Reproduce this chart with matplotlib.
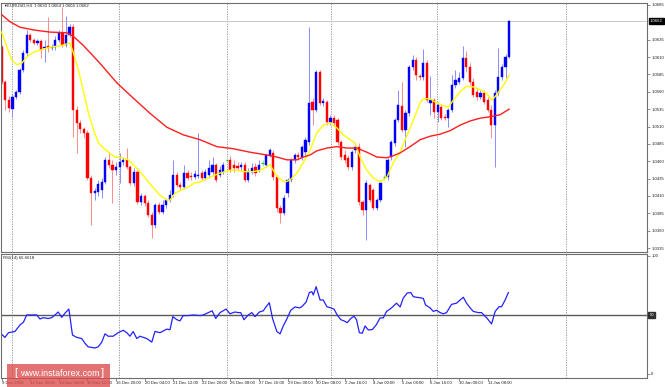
import matplotlib.pyplot as plt
from matplotlib.patches import Rectangle
from matplotlib.transforms import blended_transform_factory
import numpy as np

plt.rcParams['font.family'] = ['Liberation Sans', 'DejaVu Sans']

# EURUSD H4 - bougies (9 déc. 2016 -> 12 janv. 2017)
opens = [1.0625, 1.0574, 1.0548, 1.0535, 1.0553, 1.0560, 1.0591, 1.0616, 1.0642, 1.0635,
         1.0630, 1.0633, 1.0623, 1.0626, 1.0623, 1.0625, 1.0635, 1.0645, 1.0627, 1.0642,
         1.0653, 1.0534, 1.0515, 1.0506, 1.0501, 1.0436, 1.0414, 1.0416, 1.0419, 1.0430,
         1.0462, 1.0455, 1.0447, 1.0452, 1.0459, 1.0462, 1.0452, 1.0429, 1.0445, 1.0401,
         1.0410, 1.0400, 1.0383, 1.0368, 1.0397, 1.0387, 1.0397, 1.0404, 1.0411, 1.0440,
         1.0426, 1.0423, 1.0443, 1.0439, 1.0437, 1.0439, 1.0443, 1.0436, 1.0440, 1.0445,
         1.0455, 1.0440, 1.0445, 1.0462, 1.0462, 1.0455, 1.0453, 1.0452, 1.0455, 1.0433,
         1.0445, 1.0452, 1.0447, 1.0458, 1.0455, 1.0469, 1.0472, 1.0437, 1.0393, 1.0386,
         1.0414, 1.0433, 1.0462, 1.0469, 1.0466, 1.0473, 1.0488, 1.0545, 1.0534, 1.0589,
         1.0544, 1.0545, 1.0517, 1.0522, 1.0519, 1.0488, 1.0469, 1.0465, 1.0452, 1.0476,
         1.0481, 1.0401, 1.0390, 1.0426, 1.0419, 1.0393, 1.0404, 1.0437, 1.0437, 1.0466,
         1.0486, 1.0519, 1.0540, 1.0505, 1.0529, 1.0596, 1.0606, 1.0583, 1.0581, 1.0601,
         1.0544, 1.0548, 1.0531, 1.0538, 1.0524, 1.0522, 1.0534, 1.0570, 1.0574, 1.0580,
         1.0609, 1.0596, 1.0574, 1.0560, 1.0553, 1.0558, 1.0548, 1.0534, 1.0512, 1.0558,
         1.0581, 1.0596, 1.0610]
closes = [1.0574, 1.0548, 1.0537, 1.0553, 1.0560, 1.0591, 1.0616, 1.0642, 1.0635, 1.0630,
          1.0633, 1.0620, 1.0625, 1.0623, 1.0625, 1.0635, 1.0645, 1.0627, 1.0642, 1.0653,
          1.0534, 1.0515, 1.0506, 1.0501, 1.0436, 1.0414, 1.0417, 1.0427, 1.0430, 1.0462,
          1.0455, 1.0447, 1.0452, 1.0459, 1.0462, 1.0452, 1.0429, 1.0445, 1.0401, 1.0410,
          1.0400, 1.0383, 1.0368, 1.0397, 1.0387, 1.0397, 1.0404, 1.0411, 1.0440, 1.0426,
          1.0423, 1.0443, 1.0436, 1.0437, 1.0442, 1.0440, 1.0436, 1.0445, 1.0450, 1.0455,
          1.0433, 1.0447, 1.0455, 1.0462, 1.0447, 1.0450, 1.0450, 1.0455, 1.0433, 1.0445,
          1.0450, 1.0443, 1.0455, 1.0458, 1.0469, 1.0476, 1.0437, 1.0393, 1.0386, 1.0407,
          1.0433, 1.0462, 1.0469, 1.0466, 1.0481, 1.0491, 1.0544, 1.0534, 1.0589, 1.0544,
          1.0547, 1.0517, 1.0522, 1.0515, 1.0488, 1.0466, 1.0462, 1.0452, 1.0473, 1.0481,
          1.0401, 1.0390, 1.0429, 1.0404, 1.0393, 1.0404, 1.0429, 1.0437, 1.0462, 1.0488,
          1.0519, 1.0541, 1.0505, 1.0529, 1.0596, 1.0606, 1.0584, 1.0581, 1.0601, 1.0548,
          1.0548, 1.0531, 1.0541, 1.0522, 1.0522, 1.0534, 1.0570, 1.0577, 1.0580, 1.0609,
          1.0596, 1.0574, 1.0555, 1.0553, 1.0558, 1.0545, 1.0534, 1.0512, 1.0558, 1.0581,
          1.0596, 1.0610, 1.0662]
highs = [1.0627, 1.0577, 1.0554, 1.0557, 1.0563, 1.0594, 1.0620, 1.0649, 1.0645, 1.0637,
         1.0636, 1.0636, 1.0635, 1.0668, 1.0629, 1.0640, 1.0649, 1.0682, 1.0669, 1.0658,
         1.0658, 1.0540, 1.0519, 1.0509, 1.0505, 1.0440, 1.0422, 1.0433, 1.0436, 1.0466,
         1.0473, 1.0462, 1.0459, 1.0472, 1.0466, 1.0479, 1.0455, 1.0450, 1.0447, 1.0414,
         1.0413, 1.0404, 1.0387, 1.0400, 1.0401, 1.0404, 1.0407, 1.0419, 1.0462, 1.0445,
         1.0430, 1.0455, 1.0447, 1.0445, 1.0447, 1.0501, 1.0447, 1.0449, 1.0462, 1.0466,
         1.0458, 1.0453, 1.0459, 1.0465, 1.0468, 1.0462, 1.0459, 1.0459, 1.0459, 1.0450,
         1.0458, 1.0458, 1.0462, 1.0462, 1.0472, 1.0479, 1.0476, 1.0440, 1.0397, 1.0411,
         1.0436, 1.0465, 1.0472, 1.0473, 1.0483, 1.0495, 1.0653, 1.0551, 1.0591, 1.0591,
         1.0551, 1.0548, 1.0527, 1.0527, 1.0522, 1.0491, 1.0476, 1.0469, 1.0476, 1.0483,
         1.0486, 1.0404, 1.0433, 1.0429, 1.0422, 1.0407, 1.0433, 1.0440, 1.0465, 1.0491,
         1.0522, 1.0563, 1.0574, 1.0534, 1.0599, 1.0613, 1.0610, 1.0586, 1.0622, 1.0606,
         1.0583, 1.0551, 1.0545, 1.0541, 1.0528, 1.0537, 1.0584, 1.0591, 1.0589, 1.0626,
         1.0619, 1.0601, 1.0580, 1.0565, 1.0563, 1.0563, 1.0553, 1.0541, 1.0563, 1.0623,
         1.0600, 1.0614, 1.0664]
lows = [1.0571, 1.0534, 1.0531, 1.0524, 1.0550, 1.0557, 1.0589, 1.0612, 1.0632, 1.0627,
        1.0627, 1.0609, 1.0603, 1.0617, 1.0620, 1.0620, 1.0632, 1.0625, 1.0625, 1.0639,
        1.0495, 1.0472, 1.0501, 1.0494, 1.0433, 1.0368, 1.0404, 1.0410, 1.0407, 1.0427,
        1.0450, 1.0400, 1.0440, 1.0429, 1.0455, 1.0449, 1.0426, 1.0424, 1.0399, 1.0397,
        1.0396, 1.0380, 1.0350, 1.0364, 1.0384, 1.0384, 1.0393, 1.0401, 1.0409, 1.0423,
        1.0419, 1.0420, 1.0433, 1.0433, 1.0434, 1.0436, 1.0433, 1.0433, 1.0436, 1.0442,
        1.0430, 1.0437, 1.0442, 1.0459, 1.0445, 1.0445, 1.0447, 1.0447, 1.0430, 1.0430,
        1.0442, 1.0439, 1.0445, 1.0453, 1.0452, 1.0466, 1.0433, 1.0387, 1.0371, 1.0383,
        1.0409, 1.0430, 1.0458, 1.0462, 1.0462, 1.0469, 1.0483, 1.0512, 1.0531, 1.0541,
        1.0540, 1.0512, 1.0512, 1.0511, 1.0483, 1.0462, 1.0458, 1.0447, 1.0447, 1.0472,
        1.0397, 1.0383, 1.0347, 1.0401, 1.0390, 1.0390, 1.0401, 1.0433, 1.0433, 1.0462,
        1.0482, 1.0517, 1.0502, 1.0481, 1.0525, 1.0591, 1.0577, 1.0577, 1.0577, 1.0545,
        1.0527, 1.0522, 1.0517, 1.0519, 1.0519, 1.0509, 1.0531, 1.0565, 1.0571, 1.0577,
        1.0589, 1.0570, 1.0553, 1.0548, 1.0550, 1.0542, 1.0531, 1.0494, 1.0452, 1.0554,
        1.0577, 1.0580, 1.0609]

# Moyenne mobile rapide (jaune), points relevés (position en barres, prix)
fast_pos = [0, 1.4, 2.8, 4.2, 5.6, 7, 8.9, 10.7, 12.6, 14.5, 16.3, 18.2, 19.1, 20, 21.5,
            22.9, 24.3, 25.7, 27.1, 28.5, 29.9, 31.7, 33.6, 35.4, 36.8, 38.7, 40.6, 42.4,
            44.3, 46.2, 47.1, 48.5, 50.4, 52.2, 54.1, 55.5, 58.3, 61.1, 63.9, 65.8, 67.6,
            70.4, 72.3, 74.2, 75.1, 76, 77.4, 79.3, 80.7, 82.6, 84.4, 86.3, 88.2, 90, 91.9,
            93.8, 95.6, 97.5, 98.9, 100.3, 102.2, 104, 105.9, 107.8, 109.6, 111.5, 112.9,
            115.2, 117.1, 118, 119.9, 121.7, 123.6, 125, 126.4, 128.3, 130.1, 132, 133.9,
            135.7, 137.1, 138.1, 139.5, 140.9, 142]
fast_ma = [1.0646, 1.0625, 1.0606, 1.0599, 1.0601, 1.0610, 1.0617, 1.0620, 1.0623, 1.0625,
           1.0626, 1.0629, 1.0630, 1.0617, 1.0591, 1.0560, 1.0529, 1.0505, 1.0486, 1.0479,
           1.0473, 1.0466, 1.0465, 1.0462, 1.0455, 1.0445, 1.0433, 1.0422, 1.0411, 1.0404,
           1.0404, 1.0414, 1.0419, 1.0423, 1.0429, 1.0430, 1.0437, 1.0443, 1.0447, 1.0447,
           1.0445, 1.0445, 1.0447, 1.0452, 1.0455, 1.0447, 1.0436, 1.0430, 1.0433, 1.0443,
           1.0458, 1.0476, 1.0501, 1.0512, 1.0515, 1.0508, 1.0498, 1.0491, 1.0486, 1.0466,
           1.0447, 1.0436, 1.0430, 1.0437, 1.0458, 1.0473, 1.0491, 1.0519, 1.0544, 1.0550,
           1.0550, 1.0544, 1.0540, 1.0538, 1.0548, 1.0560, 1.0568, 1.0567, 1.0563, 1.0558,
           1.0548, 1.0553, 1.0563, 1.0573, 1.0584]

# Moyenne mobile lente (rouge)
slow_pos = [0, 2.3, 5.1, 9, 13.5, 18.2, 20, 22.8, 27.5, 32.2, 36.8, 41.5, 46.2, 50.8, 55.5,
            60.2, 64.8, 69.5, 74.2, 77, 79.8, 82.6, 84.4, 86.3, 88.2, 91, 93.8, 96.6, 99.4,
            102.2, 105, 107.8, 109.6, 111.5, 114.3, 117.1, 119.9, 122.7, 125.5, 128.3,
            131.1, 133.9, 136.7, 139.5, 142]
slow_ma = [1.0671, 1.0661, 1.0653, 1.0649, 1.0646, 1.0645, 1.0640, 1.0627, 1.0601, 1.0573,
           1.0551, 1.0529, 1.0509, 1.0498, 1.0491, 1.0481, 1.0478, 1.0473, 1.0469, 1.0466,
           1.0462, 1.0462, 1.0466, 1.0469, 1.0475, 1.0479, 1.0481, 1.0479, 1.0479, 1.0473,
           1.0466, 1.0465, 1.0468, 1.0472, 1.0481, 1.0491, 1.0496, 1.0499, 1.0504, 1.0512,
           1.0518, 1.0522, 1.0524, 1.0527, 1.0535]

# RSI(14)
rsi_pos = [-0.5, 0.9, 1.9, 3.7, 5.1, 6.1, 7, 8.4, 9.8, 10.7, 11.6, 13, 14, 14.9, 15.8, 16.8,
           17.7, 18.8, 19.8, 21, 22.4, 23.3, 24.2, 26.1, 27, 28, 28.9, 29.8, 31.2, 32.6, 34,
           35, 35.9, 36.8, 37.8, 38.7, 40.6, 42, 42.9, 44.3, 46.2, 47.1, 47.9, 49, 49.9,
           50.8, 52.2, 53.6, 55.5, 56.4, 57.8, 58.9, 59.9, 61.1, 62.8, 63.9, 65.3, 66.2,
           66.9, 67.8, 69, 70, 70.9, 72.1, 73.2, 74, 74.9, 75.8, 77, 77.9, 78.8, 79.8, 80.9,
           82.1, 83.3, 84, 85.2, 86.1, 86.8, 87.2, 88, 89.1, 90, 91, 92.1, 93, 93.9, 94.9,
           95.8, 96.7, 97.7, 98.6, 99.3, 100.1, 100.9, 101.7, 102.6, 103.7, 104.8, 105.9,
           106.8, 107.7, 109.1, 110.5, 111.5, 112.4, 113.5, 114.5, 115.2, 116.1, 117.1, 118,
           118.6, 119.9, 120.8, 121.7, 122.7, 123.6, 124.5, 125.9, 127.3, 128.3, 129.2,
           130.1, 131.1, 132, 133.4, 134.3, 135.7, 137.1, 138.1, 139.2, 139.9, 140.9, 141.8]
rsi_val = [35, 31, 35, 36, 41.5, 44, 50, 50, 50, 46.6, 47.7, 47, 47.7, 50, 52.5, 48,
           51.5, 55, 33, 31, 30, 26, 23, 22, 23, 27, 34, 32, 32, 35, 37,
           35, 32, 36, 30, 32, 30, 27, 36, 35, 38, 37.5, 48.6, 46, 45,
           49.5, 49.5, 50, 49.5, 50, 52, 53.5, 47, 52, 55, 51, 52.5, 52,
           52, 46, 50, 52, 48.6, 52.5, 53.5, 57, 60.4, 47, 36, 34, 40.7, 46.6, 54,
           56.8, 56, 57, 61, 69, 69.7, 67, 74, 62.7, 62.7, 57, 56, 55, 50, 46,
           45, 43.5, 47, 49, 46, 35, 34.5, 40.7, 37.3, 37.6, 41.5, 47.5,
           47.5, 53, 56, 60, 56.8, 64.4, 68.6, 69, 65.5, 65, 64.6, 64,
           58.5, 56, 53, 54, 52, 51, 52, 59, 60, 62.7, 65,
           60, 56, 53, 52, 52, 47.7, 42.4, 53, 57, 57, 62.7, 69]

date_labels = ["9 Dec 2016", "12 Dec 20:00", "14 Dec 04:00", "15 Dec 12:00", "16 Dec 20:00",
               "20 Dec 04:00", "21 Dec 12:00", "22 Dec 20:00", "26 Dec 08:00", "27 Dec 16:00",
               "29 Dec 00:00", "30 Dec 08:00", "2 Jan 16:00", "4 Jan 00:00", "5 Jan 08:00",
               "6 Jan 16:00", "10 Jan 00:00", "11 Jan 08:00"]
price_labels = ["1.0685", "1.0635", "1.0610", "1.0585", "1.0560", "1.0535", "1.0510",
                "1.0485", "1.0460", "1.0435", "1.0410", "1.0385", "1.0360", "1.0335"]
last_price = "1.0662"
grid_pos = [2.9, 32.8, 63.1, 92.2, 121.8, 157.9]

W, H = 665, 387
fig = plt.figure(figsize=(W / 100, H / 100), dpi=100)
fig.patch.set_facecolor('white')
ax = fig.add_axes([1 / W, (H - 251.5) / H, 646 / W, 249 / H])
ax2 = fig.add_axes([1 / W, 9.5 / H, 646 / W, 124 / H])

o, c, h, l = map(np.array, (opens, closes, highs, lows))
x = np.arange(len(o))
up = c > o
dn = c < o
flat = ~(up | dn)

# grille verticale pointillée
for a in (ax, ax2):
    for g in grid_pos:
        a.axvline(g, color='#8a8a8a', lw=0.6, ls=(0, (1.5, 1.5)), zorder=0)

ax.axhline(float(last_price), color='#c8c8c8', lw=0.7, zorder=0.5)

# bougies
ax.vlines(x[up], l[up], h[up], color='#8c8cff', lw=0.7, zorder=1)
ax.vlines(x[dn], l[dn], h[dn], color='#ff8c8c', lw=0.7, zorder=1)
ax.vlines(x[flat], l[flat], h[flat], color='#9ae89a', lw=0.7, zorder=1)
ax.bar(x[up], c[up] - o[up], bottom=o[up], width=0.62, color='#0000ff',
       edgecolor='#0000ff', lw=0.3, zorder=2)
ax.bar(x[dn], o[dn] - c[dn], bottom=c[dn], width=0.62, color='#ff0000',
       edgecolor='#ff0000', lw=0.3, zorder=2)
ax.hlines(c[flat], x[flat] - 0.35, x[flat] + 0.35, color='#00cc00', lw=0.8, zorder=2)

# moyennes mobiles
ax.plot(fast_pos, fast_ma, color='#ffff00', lw=1.0, zorder=3)
ax.plot(slow_pos, slow_ma, color='#ff1e1e', lw=1.0, zorder=3)

ax.set_xlim(-0.2, 180.6)
ax.set_ylim(1.0330, 1.06886)
ax2.set_xlim(-0.2, 180.6)
ax2.set_ylim(-3, 102.1)

# RSI
ax2.axhline(50, color='#5a5a5a', lw=1.0, zorder=1)
ax2.plot(rsi_pos, rsi_val, color='#2222ff', lw=0.9, zorder=2)

fs = 3.1
for a in (ax, ax2):
    for s in a.spines.values():
        s.set_color('#6e6e6e')
        s.set_linewidth(0.8)
    a.yaxis.tick_right()
    a.tick_params(axis='y', labelsize=fs, length=2, width=0.5, pad=1,
                  color='#606060', labelcolor='#202020')

ax.set_xticks([])
ax.set_yticks([float(p) for p in price_labels])
ax.set_yticklabels(price_labels)

tr = blended_transform_factory(ax.transAxes, ax.transData)
ax.text(1.004, float(last_price), last_price, transform=tr, fontsize=fs, color='white',
        va='center', ha='left',
        bbox=dict(boxstyle='square,pad=0.25', fc='black', ec='black'))

ax2.set_yticks([100, 0])
ax2.set_yticklabels(["100", "0"])
tr2 = blended_transform_factory(ax2.transAxes, ax2.transData)
ax2.text(1.004, 50, "50", transform=tr2, fontsize=fs, color='white', va='center',
         ha='left', bbox=dict(boxstyle='square,pad=0.3', fc='#303030', ec='#303030'))

ax2.set_xticks(np.arange(0, 8 * len(date_labels), 8))
ax2.set_xticklabels(date_labels)
ax2.tick_params(axis='x', labelsize=fs, length=2, width=0.5, pad=0.8,
                color='#606060', labelcolor='#202020')
for t in ax2.get_xticklabels():
    t.set_ha('left')

# en-têtes
fig.text(3 / W, 1 - 6 / H, "▼", fontsize=2.6, color='#202020', va='center')
fig.text(7 / W, 1 - 6 / H, "EURUSD,H4  1.0630 1.0664 1.0604 1.0662", fontsize=fs,
         color='#202020', va='center')
fig.text(3 / W, 1 - 257.5 / H, "RSI(14) 66.6618", fontsize=fs, color='#202020', va='center')

# filigrane
fig.patches.append(Rectangle((7 / W, 0), 103 / W, 23 / H, transform=fig.transFigure,
                             facecolor='#dc4a4a', alpha=0.78, edgecolor='none', zorder=10))
fig.text(14 / W, 1 - 373 / H, "[", fontsize=8, color='white', va='center', zorder=11)
fig.text(60 / W, 1 - 373.5 / H, "www.instaforex.com", fontsize=6.4, color='white',
         ha='center', va='center', zorder=11)
fig.text(101 / W, 1 - 373 / H, "]", fontsize=8, color='white', va='center', zorder=11)

fig.savefig('out.png', dpi=100)
